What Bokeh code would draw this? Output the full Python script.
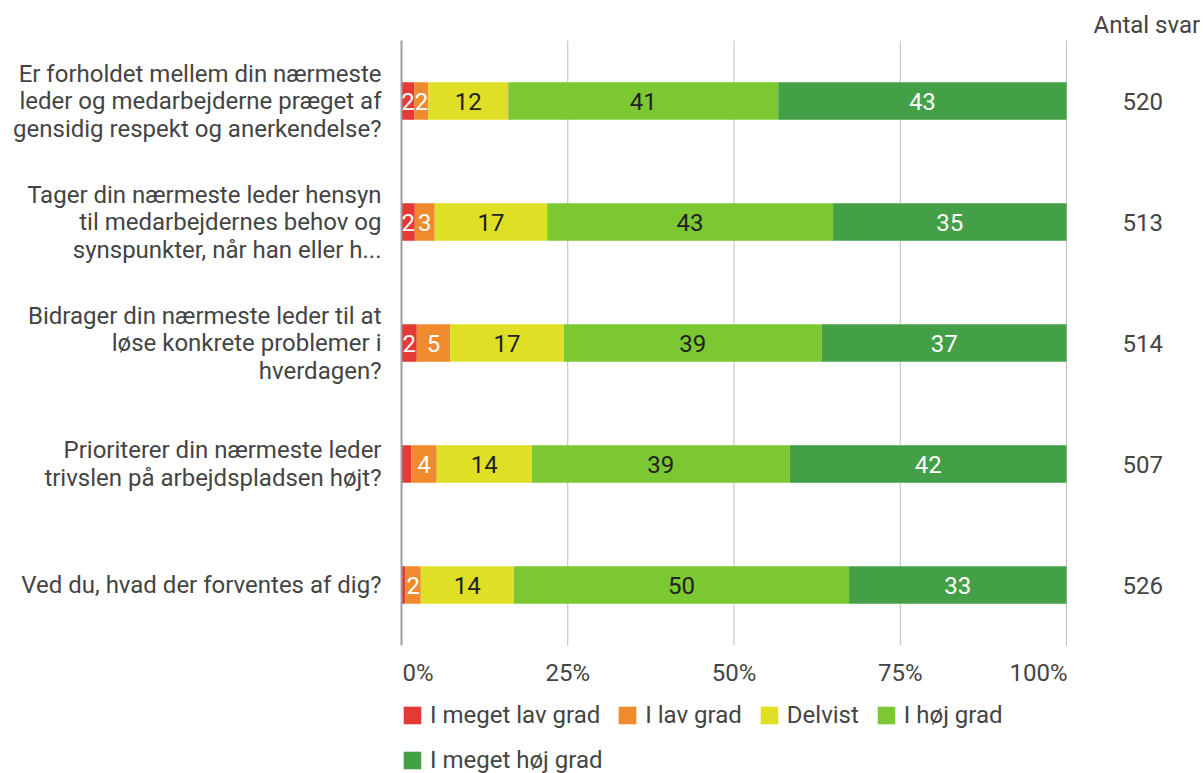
from bokeh.plotting import figure
from bokeh.models import (ColumnDataSource, Range1d, Legend, LegendItem, FixedTicker,
                          LinearAxis, Title)
from bokeh.embed import file_html
from bokeh.resources import INLINE
from bokeh.core.properties import value

questions = [
    "Er forholdet mellem din nærmeste leder og medarbejderne præget af gensidig respekt og anerkendelse?",
    "Tager din nærmeste leder hensyn til medarbejdernes behov og synspunkter, når han eller h...",
    "Bidrager din nærmeste leder til at løse konkrete problemer i hverdagen?",
    "Prioriterer din nærmeste leder trivslen på arbejdspladsen højt?",
    "Ved du, hvad der forventes af dig?",
]
question_lines = [
    ["Er forholdet mellem din nærmeste", "leder og medarbejderne præget af", "gensidig respekt og anerkendelse?"],
    ["Tager din nærmeste leder hensyn", "til medarbejdernes behov og", "synspunkter, når han eller h..."],
    ["Bidrager din nærmeste leder til at", "løse konkrete problemer i", "hverdagen?"],
    ["Prioriterer din nærmeste leder", "trivslen på arbejdspladsen højt?"],
    ["Ved du, hvad der forventes af dig?"],
]
series_names = ["I meget lav grad", "I lav grad", "Delvist", "I høj grad", "I meget høj grad"]
meget_lav = [1.95, 2.0, 2.3, 1.5, 0.6]
lav = [2.1, 3.0, 5.0, 3.8, 2.3]
delvist = [12.0, 16.9, 17.1, 14.3, 14.0]
hoj = [40.6, 43.0, 38.8, 38.8, 50.4]
meget_hoj = [43.35, 35.1, 36.8, 41.6, 32.7]
antal_svar = [520, 513, 514, 507, 526]
x_ticks = [0, 25, 50, 75, 100]
x_tick_labels = ["0%", "25%", "50%", "75%", "100%"]

colors = ["#e53935", "#ef8b2c", "#dfe026", "#7cc832", "#43a047"]
label_colors = ["#ffffff", "#ffffff", "#212121", "#212121", "#ffffff"]
FONT = "Roboto"
FS = "24px"
TXT = "#444444"

W, H = 1203, 773
LEFT, RIGHT, TOP = 401, 135, 40
PLOT_BOTTOM = 645            # pixel row where the bar area ends
n = len(questions)
row_px = (PLOT_BOTTOM - TOP) / n
below_units = (H - PLOT_BOTTOM) / row_px
line_step = 27.5 / row_px    # spacing of question text lines, in row units
tick_label_y = -27.0 / row_px

series = [meget_lav, lav, delvist, hoj, meget_hoj]
keys = ["s0", "s1", "s2", "s3", "s4"]
row_y = [n - i - 0.5 for i in range(n)]
data = {"y": row_y, "q": questions}
for k, s in zip(keys, series):
    data[k] = s
src = ColumnDataSource(data)

p = figure(width=W, height=H, output_backend="svg", toolbar_location=None,
           y_range=Range1d(-below_units, n), x_range=Range1d(0, 100.3),
           x_axis_location=None,
           min_border_left=LEFT, min_border_right=RIGHT, min_border_top=TOP,
           min_border_bottom=0)
p.outline_line_color = None
p.xgrid.visible = False
p.ygrid.visible = False
for g in p.grid:
    g.grid_line_color = None

# vertical grid lines over the bar area
p.segment(x0=x_ticks[1:], y0=[0] * 4, x1=x_ticks[1:], y1=[n] * 4,
          line_color="#bdbdbd", line_width=1)

renderers = p.hbar_stack(keys, y="y", height=0.31, source=src, color=colors, line_color=None)

# segment labels
lx, ly, lt, lc = [], [], [], []
for i in range(n):
    left = 0.0
    for j, s in enumerate(series):
        v = s[i]
        if v >= 1.8:
            lx.append(left + v / 2)
            ly.append(row_y[i])
            lt.append(str(int(round(v))))
            lc.append(label_colors[j])
        left += v
lsrc = ColumnDataSource(dict(x=lx, y=ly, text=lt, color=lc))
p.text(x="x", y="y", text="text", text_color="color", source=lsrc, text_align="center",
       text_baseline="middle", text_font=value(FONT), text_font_size=FS)

# x tick labels (first and last kept inside the plot width)
for idx, al, off in [([0], "left", 1), ([1, 2, 3], "center", 0), ([4], "right", 1)]:
    p.text(x=[x_ticks[i] for i in idx], y=[tick_label_y] * len(idx),
           text=[x_tick_labels[i] for i in idx], x_offset=off, text_align=al,
           text_baseline="middle", text_font=value(FONT), text_font_size=FS, text_color=TXT)

# left axis: question texts, one tick per text line
ticks, overrides = [], {}
for i, lines in enumerate(question_lines):
    m = len(lines)
    for k, line in enumerate(lines):
        t = row_y[i] + ((m - 1) / 2 - k) * line_step
        ticks.append(t)
        overrides[t] = line
ya = p.yaxis[0]
ya.ticker = FixedTicker(ticks=ticks)
ya.major_label_overrides = overrides
ya.bounds = (0, n)
ya.major_label_text_font = FONT
ya.major_label_text_font_size = FS
ya.major_label_text_color = TXT
ya.major_label_standoff = 20
ya.major_tick_line_color = None
ya.major_tick_out = 0
ya.major_tick_in = 0
ya.minor_tick_line_color = None
ya.axis_line_color = "#9e9e9e"
ya.axis_line_width = 2

# right axis: number of answers
ra = LinearAxis(ticker=FixedTicker(ticks=row_y), bounds=(0, n))
ra.major_label_overrides = {y: str(c) for y, c in zip(row_y, antal_svar)}
ra.major_label_text_font = FONT
ra.major_label_text_font_size = FS
ra.major_label_text_color = TXT
ra.major_label_standoff = 54
ra.major_tick_line_color = None
ra.major_tick_out = 0
ra.major_tick_in = 0
ra.minor_tick_line_color = None
ra.axis_line_color = None
p.add_layout(ra, "right")

p.add_layout(Title(text="Antal svar", align="left", offset=692, standoff=4,
                   text_font=FONT, text_font_size=FS, text_font_style="normal",
                   text_color=TXT), "above")

# legends
def make_legend(idx, loc):
    lg = Legend(items=[LegendItem(label=series_names[k], renderers=[renderers[k]]) for k in idx],
                orientation="horizontal", location=loc)
    lg.label_text_font = FONT
    lg.label_text_font_size = FS
    lg.label_text_color = TXT
    lg.glyph_width = 22
    lg.glyph_height = 22
    lg.label_standoff = 7
    lg.spacing = 16
    lg.padding = 0
    lg.margin = 0
    lg.border_line_color = None
    lg.background_fill_alpha = 0
    return lg

p.add_layout(make_legend([0, 1, 2, 3], (0, 44)))
p.add_layout(make_legend([4], (0, -1)))

open("out.html", "w").write(file_html(p, INLINE))
